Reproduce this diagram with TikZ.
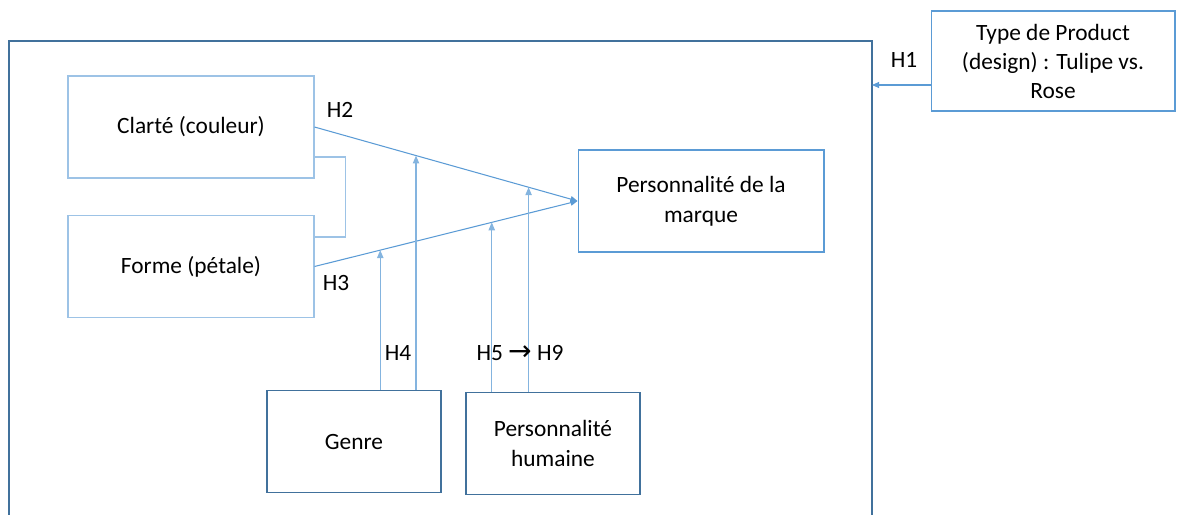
\documentclass[tikz,border=0pt]{standalone}
\usepackage{fontspec}
\setmainfont{Carlito}
\newfontfamily\arrowfont{DejaVu Sans}
\usepackage{tikz}
\usetikzlibrary{arrows.meta,calc}
\definecolor{lineblue}{HTML}{5B9BD5}
\definecolor{paleblue}{HTML}{9DC3E6}
\definecolor{darkblue}{HTML}{41719C}
\tikzset{
  md/box/.style={draw=lineblue, line width=0.6pt, minimum width=4.92cm, minimum height=2.04cm, align=center, inner sep=2pt},
  md/palebox/.style={md/box, draw=paleblue},
  md/darkbox/.style={md/box, draw=darkblue, minimum width=3.48cm},
  md/frame/.style={draw=darkblue, line width=0.6pt},
  md/link/.style={lineblue, line width=0.6pt, -{Triangle[length=4pt,width=3.4pt]}},
  md/mod/.style={lineblue!75, line width=0.7pt, -{Triangle[length=4.5pt,width=3.6pt]}},
  md/hyp/.style={font=\fontsize{13.3}{16}\selectfont, inner sep=1pt}
}

\begin{document}
\begin{tikzpicture}[x=0.02cm, y=-0.02cm, font=\fontsize{13.3}{17}\selectfont]
  \useasboundingbox (0,0) rectangle (1179,514);

  % outer frame, open at the bottom
  \draw[md/frame] (9,520) |- (872,41) -- (872,520);

  \node[md/palebox] (clarte) at (191,127) {Clarté (couleur)};
  \node[md/palebox] (forme) at (191,266.5) {Forme (pétale)};
  \node[md/box] (marque) at (701,201) {Personnalité de la\\marque};
  \node[md/darkbox] (genre) at (354,441.5) {Genre};
  \node[md/darkbox] (perso) at (553,443.5) {Personnalité\\humaine};
  \node[md/box, minimum width=4.88cm, minimum height=2cm, font=\fontsize{13.3}{16.5}\selectfont] (type) at (1053,61) {Type de Product\\(design) : Tulipe vs.\\Rose};

  % main effects
  \draw[md/link] (clarte.east) -- (marque.west);
  \draw[md/link] (forme.east) -- (marque.west);
  \draw[paleblue, line width=0.6pt] (clarte.east |- 0,157) -- ++(31,0) |- (forme.east |- 0,237);

  % moderators
  \coordinate (h2g) at ($(clarte.east)!0.386!(marque.west)$);
  \coordinate (h2p) at ($(clarte.east)!0.814!(marque.west)$);
  \coordinate (h3g) at ($(forme.east)!0.25!(marque.west)$);
  \coordinate (h3p) at ($(forme.east)!0.674!(marque.west)$);
  \draw[md/mod] (genre.north -| h3g) -- (h3g);
  \draw[md/mod] (genre.north -| h2g) -- (h2g);
  \draw[md/mod] (perso.north -| h3p) -- (h3p);
  \draw[md/mod] (perso.north -| h2p) -- (h2p);

  % product type
  \coordinate (h1end) at (872,85);
  \draw[md/link] (type.west |- h1end) -- (h1end);

  \node[md/hyp] (lh1) at (904,60) {H1};
  \node[md/hyp] (lh2) at (340,110) {H2};
  \node[md/hyp] (lh3) at (336,283) {H3};
  \node[md/hyp] (lh4) at (398,353) {H4};
  \node[md/hyp] (lh5) at (520,353) {H5 {\arrowfont\fontsize{16}{16}\selectfont →} H9};
\end{tikzpicture}
\end{document}
